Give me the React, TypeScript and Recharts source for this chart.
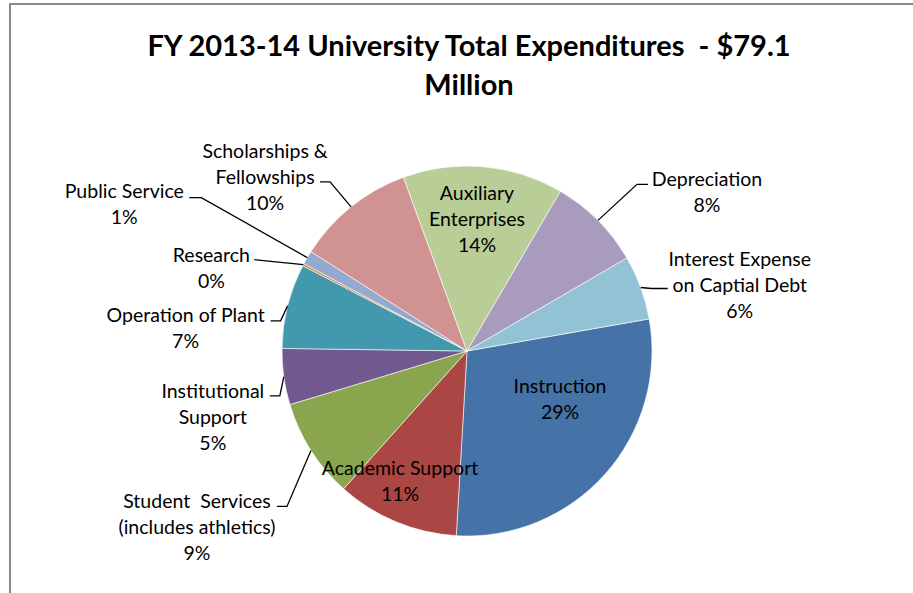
import { PieChart, Pie, Cell } from "recharts";

// categories in clockwise order, starting from Instruction
const categories = [
  "Instruction",
  "Academic Support",
  "Student  Services\n(includes athletics)",
  "Institutional\nSupport",
  "Operation of Plant",
  "Research",
  "Public Service",
  "Scholarships &\nFellowships",
  "Auxiliary\nEnterprises",
  "Depreciation",
  "Interest Expense\non Captial Debt",
];

// share of total expenditures, in percent
const shares = [28.7, 10.7, 8.7, 4.9, 7.4, 0.2, 1.2, 10.4, 14.0, 8.2, 5.6];

const colors = [
  "#4572a7",
  "#aa4643",
  "#89a54e",
  "#71588f",
  "#4198af",
  "#db843d",
  "#93a9cf",
  "#d19392",
  "#b9cd96",
  "#a99bbd",
  "#92c3d5",
];

// label placement: inside labels are offset from the pie centre,
// outside ones from the slice edge at its mid angle
type Spot = { inside?: boolean; text: [number, number]; elbow?: [number, number]; end?: [number, number] };
const labelSpots: Spot[] = [
  { inside: true, text: [93, 34] },
  { inside: true, text: [-67, 116] },
  { text: [-114, 50], elbow: [-24, 56], end: [-34, 56] },
  { text: [-71, 14], elbow: [-4, 19], end: [-14, 19] },
  { text: [-102, 9], elbow: [-7, 15], end: [-17, 15] },
  { text: [-92, -10], elbow: [-40, -4], end: [-49, -5] },
  { text: [-183, -67], elbow: [-106, -60], end: [-118, -60] },
  { text: [-86, -56], elbow: [-21, -25], end: [-31, -25] },
  { inside: true, text: [10, -159] },
  { text: [109, -42], elbow: [39, -36], end: [50, -36] },
  { text: [99, -29], elbow: [11, 1], end: [27, 1] },
];

const data = categories.map((name, i) => ({ name, value: shares[i] }));

const RAD = Math.PI / 180;
const FONT = "Lato, 'Open Sans', sans-serif";
const LINE = 26;

function renderLabel(props: any) {
  const { cx, cy, midAngle, outerRadius, percent, index } = props;
  const spot = labelSpots[index];
  const lines = [...categories[index].split("\n"), `${Math.round(percent * 100)}%`];
  const ex = cx + outerRadius * Math.cos(-midAngle * RAD);
  const ey = cy + outerRadius * Math.sin(-midAngle * RAD);
  const ox = spot.inside ? cx : ex;
  const oy = spot.inside ? cy : ey;
  const tx = ox + spot.text[0];
  const ty = oy + spot.text[1];
  return (
    <g key={`lbl-${index}`}>
      {spot.elbow && spot.end && (
        <polyline
          points={`${ex},${ey} ${ex + spot.elbow[0]},${ey + spot.elbow[1]} ${ex + spot.end[0]},${ey + spot.end[1]}`}
          fill="none"
          stroke="#000"
          strokeWidth={1.3}
        />
      )}
      {lines.map((ln, j) => (
        <text
          key={j}
          x={tx}
          y={ty + j * LINE}
          textAnchor="middle"
          dominantBaseline="central"
          fontFamily={FONT}
          fontSize={19.5}
          fill="#000"
          style={{ whiteSpace: "pre" }}
        >
          {ln}
        </text>
      ))}
    </g>
  );
}

export default function App() {
  return (
    <div
      style={{
        position: "absolute",
        left: 0,
        top: 0,
        width: 913,
        height: 593,
        overflow: "hidden",
        background: "#fff",
      }}
    >
      <div
        style={{
          position: "absolute",
          left: 9,
          top: 3,
          width: 1000,
          height: 700,
          border: "2px solid #8a8a8a",
        }}
      />
      <div
        style={{
          position: "absolute",
          left: 0,
          top: 0,
          width: 938,
          textAlign: "center",
          fontFamily: FONT,
          fontWeight: 700,
          fontSize: 29,
          lineHeight: "39px",
          paddingTop: 25,
          color: "#000",
          whiteSpace: "pre",
        }}
      >
        {"FY 2013-14 University Total Expenditures  - $79.1\nMillion"}
      </div>
      <div style={{ position: "absolute", left: 0, top: 0 }}>
        <PieChart width={913} height={593} margin={{ top: 0, right: 0, bottom: 0, left: 0 }}>
          <Pie
            data={data}
            dataKey="value"
            nameKey="name"
            cx={467}
            cy={351}
            outerRadius={185}
            startAngle={10}
            endAngle={-350}
            stroke="#ffffff"
            strokeWidth={0.6}
            label={renderLabel}
            labelLine={false}
            isAnimationActive={false}
          >
            {data.map((d, i) => (
              <Cell key={d.name} fill={colors[i]} />
            ))}
          </Pie>
        </PieChart>
      </div>
    </div>
  );
}
